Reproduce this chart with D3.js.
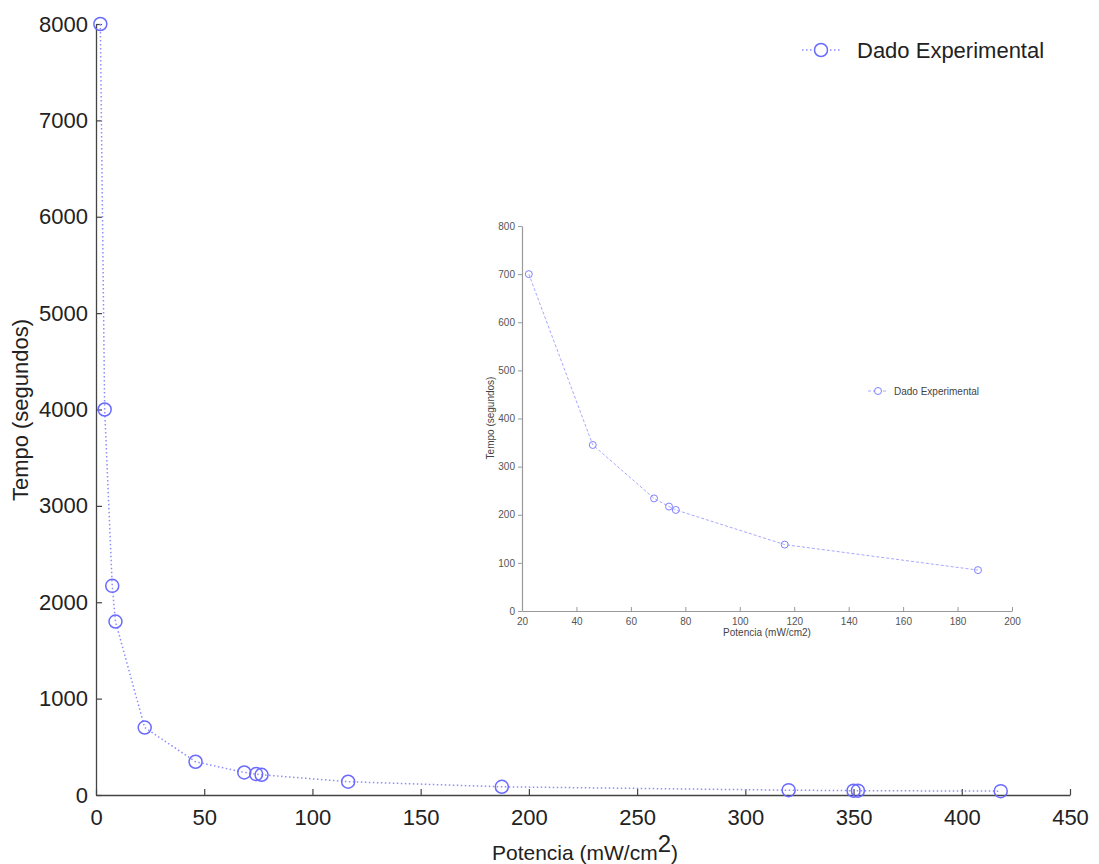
<!DOCTYPE html>
<html>
<head>
<meta charset="utf-8">
<script src="https://cdn.jsdelivr.net/npm/d3@7"></script>
<style>
  body { margin: 0; background: #fff; }
  svg { display: block; font-family: "Liberation Sans", Arial, sans-serif; }
</style>
</head>
<body>
<div id="chart"></div>
<script>
// measured values: potencia (mW/cm2) vs tempo (s)
const potencia = [2, 4, 7.5, 9, 22.5, 46, 68.5, 74, 76.5, 116.5, 187.5, 320, 350, 352, 418];
const tempo = [8000, 4000, 2170, 1800, 700, 345, 234, 217, 210, 138, 85, 50, 45, 45, 40];
const xTicks = [0, 50, 100, 150, 200, 250, 300, 350, 400, 450];
const yTicks = [0, 1000, 2000, 3000, 4000, 5000, 6000, 7000, 8000];
const insetXTicks = [20, 40, 60, 80, 100, 120, 140, 160, 180, 200];
const insetYTicks = [0, 100, 200, 300, 400, 500, 600, 700, 800];
const seriesName = "Dado Experimental";

const width = 1099, height = 864;
const data = potencia.map((p, i) => ({ x: p, y: tempo[i] }));
const fmt = d3.format("d");

const svg = d3.select("#chart").append("svg")
  .attr("width", width)
  .attr("height", height);

const lineColor = "#8c8cff";
const markColor = "#6a6aff";

// ---- main chart ----
const x = d3.scaleLinear().domain([0, 450]).range([96, 1070]);
const y = d3.scaleLinear().domain([0, 8000]).range([795, 24]);

const gx = svg.append("g")
  .attr("transform", `translate(0,${y(0)})`)
  .call(d3.axisBottom(x).tickValues(xTicks).tickFormat(fmt).tickSize(-6).tickPadding(14).tickSizeOuter(0));
gx.selectAll("text").attr("font-size", 22).attr("fill", "#222");

const gy = svg.append("g")
  .attr("transform", `translate(${x(0)},0)`)
  .call(d3.axisLeft(y).tickValues(yTicks).tickFormat(fmt).tickSize(-6).tickPadding(8).tickSizeOuter(0));
gy.selectAll("text").attr("font-size", 22).attr("fill", "#222");

[gx, gy].forEach(g => {
  g.select(".domain").attr("stroke", "#444").attr("stroke-width", 1.3);
  g.selectAll(".tick line").attr("stroke", "#444").attr("stroke-width", 1.2);
  g.attr("font-family", null);
});

const line = d3.line().x(d => x(d.x)).y(d => y(d.y));

svg.append("path")
  .datum(data)
  .attr("fill", "none")
  .attr("stroke", lineColor)
  .attr("stroke-width", 1.5)
  .attr("stroke-dasharray", "1.5,2.5")
  .attr("d", line);

svg.append("g").selectAll("circle")
  .data(data)
  .join("circle")
  .attr("cx", d => x(d.x))
  .attr("cy", d => y(d.y))
  .attr("r", 6.5)
  .attr("fill", "none")
  .attr("stroke", markColor)
  .attr("stroke-width", 1.5);

svg.append("text")
  .attr("x", 585)
  .attr("y", 860)
  .attr("text-anchor", "middle")
  .attr("font-size", 21)
  .attr("fill", "#222")
  .html('Potencia (mW/cm<tspan dy="-8" font-size="24">2</tspan><tspan dy="8">)</tspan>');

svg.append("text")
  .attr("transform", "translate(28,410) rotate(-90)")
  .attr("text-anchor", "middle")
  .attr("font-size", 22)
  .attr("fill", "#222")
  .text("Tempo (segundos)");

// main legend
const leg = svg.append("g").attr("transform", "translate(802,50)");
leg.append("line").attr("x1", 0).attr("x2", 38)
  .attr("stroke", lineColor).attr("stroke-width", 1.5).attr("stroke-dasharray", "1.5,2.5");
leg.append("circle").attr("cx", 19).attr("r", 6.5)
  .attr("fill", "#fff").attr("stroke", markColor).attr("stroke-width", 1.5);
leg.append("text").attr("x", 55).attr("dy", "0.35em")
  .attr("font-size", 22).attr("fill", "#222").text(seriesName);

// ---- inset chart ----
const insetData = data.filter(d => d.x >= 20 && d.x <= 200);
const ix = d3.scaleLinear().domain([20, 200]).range([522, 1012]);
const iy = d3.scaleLinear().domain([0, 800]).range([611, 226]);

const igx = svg.append("g")
  .attr("transform", `translate(0,${iy(0)})`)
  .call(d3.axisBottom(ix).tickValues(insetXTicks).tickSize(-4).tickPadding(7).tickSizeOuter(0));
const igy = svg.append("g")
  .attr("transform", `translate(${ix(20)},0)`)
  .call(d3.axisLeft(iy).tickValues(insetYTicks).tickSize(4).tickPadding(3).tickSizeOuter(0));

[igx, igy].forEach(g => {
  g.attr("font-family", null);
  g.select(".domain").attr("stroke", "#999").attr("stroke-width", 1.2);
  g.selectAll(".tick line").attr("stroke", "#999");
  g.selectAll("text").attr("font-size", 10).attr("fill", "#555");
});

const iline = d3.line().x(d => ix(d.x)).y(d => iy(d.y)).curve(d3.curveMonotoneX);

svg.append("path")
  .datum(insetData)
  .attr("fill", "none")
  .attr("stroke", "#a8a8ff")
  .attr("stroke-width", 1)
  .attr("stroke-dasharray", "3,2")
  .attr("d", d3.line().x(d => ix(d.x)).y(d => iy(d.y))(insetData));

svg.append("g").selectAll("circle")
  .data(insetData)
  .join("circle")
  .attr("cx", d => ix(d.x))
  .attr("cy", d => iy(d.y))
  .attr("r", 3.5)
  .attr("fill", "none")
  .attr("stroke", "#8080ff")
  .attr("stroke-width", 1);

svg.append("text")
  .attr("x", 767)
  .attr("y", 636)
  .attr("text-anchor", "middle")
  .attr("font-size", 10)
  .attr("fill", "#444")
  .text("Potencia (mW/cm2)");

svg.append("text")
  .attr("transform", "translate(494,418) rotate(-90)")
  .attr("text-anchor", "middle")
  .attr("font-size", 10)
  .attr("fill", "#444")
  .text("Tempo (segundos)");

const ileg = svg.append("g").attr("transform", "translate(868,391)");
ileg.append("line").attr("x1", 0).attr("x2", 20)
  .attr("stroke", "#a8a8ff").attr("stroke-width", 1).attr("stroke-dasharray", "3,2");
ileg.append("circle").attr("cx", 10).attr("r", 3.5)
  .attr("fill", "#fff").attr("stroke", "#8080ff").attr("stroke-width", 1);
ileg.append("text").attr("x", 26).attr("dy", "0.35em")
  .attr("font-size", 10).attr("fill", "#444").text(seriesName);
</script>
</body>
</html>
